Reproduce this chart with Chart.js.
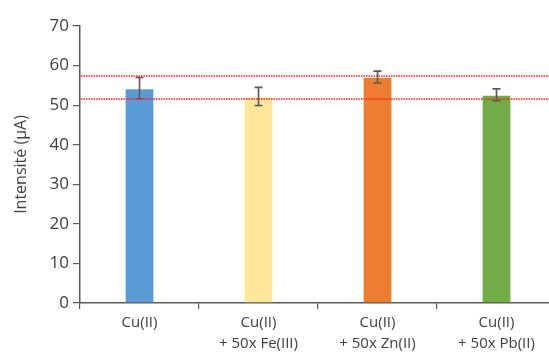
<!DOCTYPE html>
<html>
<head>
<meta charset="utf-8">
<script src="https://cdn.jsdelivr.net/npm/chart.js@4/dist/chart.umd.min.js"></script>
<style>
    html, body { margin: 0; padding: 0; background: #fff; overflow: hidden; }
    #wrap { width: 549px; height: 352px; overflow: hidden; }
    #chart-box { width: 560px; height: 352px; }
</style>
</head>
<body>
<div id="wrap"><div id="chart-box"><canvas id="chart"></canvas></div></div>
<script>
const categories = [['Cu(II)'], ['Cu(II)', '+ 50x Fe(III)'], ['Cu(II)', '+ 50x Zn(II)'], ['Cu(II)', '+ 50x Pb(II)']];
const intensities = [54.3, 52.2, 57.1, 52.6];
const errors = [2.7, 2.3, 1.5, 1.5];
const barColors = ['#5B9BD5', '#FFE699', '#ED7D31', '#70AD47'];
const referenceLines = [57.3, 51.6];
const yTicks = [0, 10, 20, 30, 40, 50, 60, 70];

const axisColor = '#595959';
const textColor = '#404040';

const errorBarPlugin = {
    id: 'errorBars',
    afterDatasetsDraw(chart) {
        const ctx = chart.ctx;
        const y = chart.scales.y;
        const meta = chart.getDatasetMeta(0);
        ctx.save();
        ctx.strokeStyle = axisColor;
        ctx.lineWidth = 1.6;
        meta.data.forEach((bar, i) => {
            const top = y.getPixelForValue(intensities[i] + errors[i]);
            const bottom = y.getPixelForValue(intensities[i] - errors[i]);
            ctx.beginPath();
            ctx.moveTo(bar.x, top);
            ctx.lineTo(bar.x, bottom);
            ctx.moveTo(bar.x - 4, top);
            ctx.lineTo(bar.x + 4, top);
            ctx.moveTo(bar.x - 4, bottom);
            ctx.lineTo(bar.x + 4, bottom);
            ctx.stroke();
        });
        ctx.restore();
    }
};

const refLinePlugin = {
    id: 'refLines',
    afterDraw(chart) {
        const ctx = chart.ctx;
        const area = chart.chartArea;
        const y = chart.scales.y;
        ctx.save();
        ctx.strokeStyle = '#FF2020';
        ctx.lineWidth = 1.5;
        ctx.setLineDash([1.5, 1]);
        referenceLines.forEach(v => {
            const py = Math.round(y.getPixelForValue(v));
            ctx.beginPath();
            ctx.moveTo(area.left + 1, py);
            ctx.lineTo(area.right, py);
            ctx.stroke();
        });
        ctx.restore();
    }
};

new Chart(document.getElementById('chart'), {
    type: 'bar',
    data: {
        labels: categories,
        datasets: [{
            data: intensities,
            backgroundColor: barColors,
            borderColor: 'rgba(255,255,255,0.5)',
            borderWidth: 1,
            barPercentage: 0.25,
            categoryPercentage: 1
        }]
    },
    options: {
        responsive: true,
        maintainAspectRatio: false,
        animation: false,
        events: [],
        layout: { padding: { top: 26, right: 4, left: 12, bottom: 0 } },
        plugins: {
            legend: { display: false },
            tooltip: { enabled: false }
        },
        scales: {
            x: {
                grid: {
                    offset: true,
                    drawOnChartArea: false,
                    color: axisColor,
                    tickLength: 6,
                    lineWidth: 1.2
                },
                border: { color: axisColor, width: 1.5 },
                ticks: {
                    color: textColor,
                    font: { family: 'Open Sans', size: 15, lineHeight: 1.4 },
                    maxRotation: 0,
                    autoSkip: false,
                    padding: 3
                },
                afterFit(scale) { scale.height = 49; }
            },
            y: {
                min: 0,
                max: 70,
                afterBuildTicks(scale) { scale.ticks = yTicks.map(v => ({ value: v })); },
                grid: {
                    drawOnChartArea: false,
                    color: axisColor,
                    tickLength: 7,
                    lineWidth: 1.2
                },
                border: { color: axisColor, width: 1.5 },
                ticks: {
                    color: textColor,
                    font: { family: 'Open Sans', size: 17 },
                    padding: 4
                },
                title: {
                    display: true,
                    text: 'Intensité (µA)',
                    color: textColor,
                    font: { family: 'Open Sans', size: 16 },
                    padding: { top: 0, bottom: 4 }
                },
                afterFit(scale) { scale.width = 68; }
            }
        }
    },
    plugins: [errorBarPlugin, refLinePlugin]
});
</script>
</body>
</html>
